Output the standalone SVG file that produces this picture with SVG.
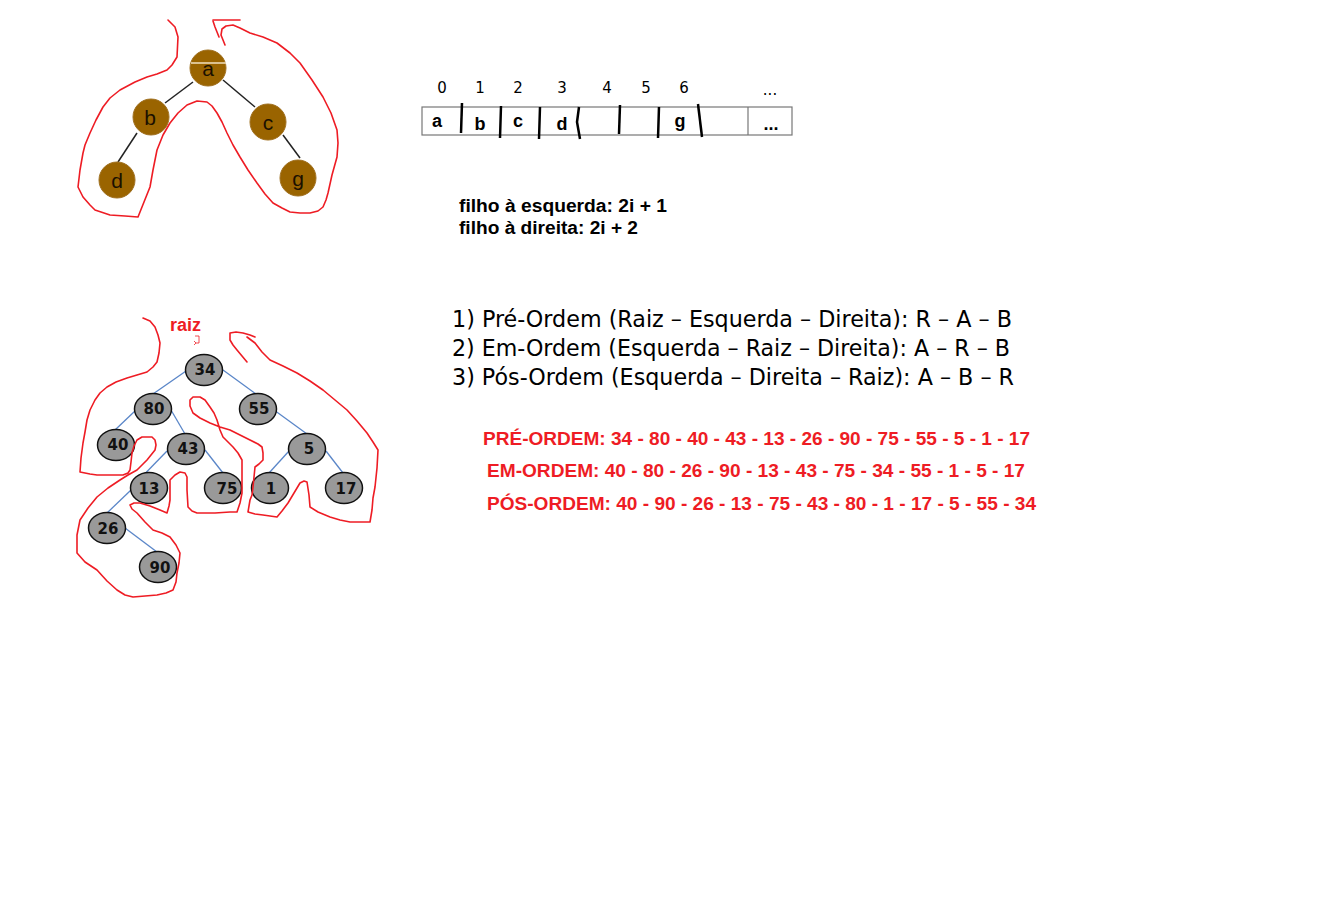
<svg xmlns="http://www.w3.org/2000/svg" width="1341" height="912" viewBox="0 0 1341 912">
<style>
.bn{fill:#9a6400;stroke:#a07020;stroke-width:1}
.bt{font-family:"Liberation Sans",Arial,sans-serif;font-size:21px;fill:#1a1000;text-anchor:middle}
.gn{fill:#999999;stroke:#111;stroke-width:1.5}
.gt{font-family:"DejaVu Sans",Verdana,sans-serif;font-weight:bold;font-size:15px;fill:#111;text-anchor:middle}
.e1{stroke:#222;stroke-width:1.5;fill:none}
.e2{stroke:#5a86c8;stroke-width:1.3;fill:none}
.red{stroke:#ee1c24;stroke-width:1.6;fill:none;stroke-linejoin:round;stroke-linecap:round}
.idx{font-family:"DejaVu Sans",Verdana,sans-serif;font-size:15px;fill:#000;text-anchor:middle}
.cel{font-family:"Liberation Sans",Arial,sans-serif;font-weight:bold;font-size:18px;fill:#000;text-anchor:middle}
.div{stroke:#000;stroke-width:2.5;fill:none}
.bk{font-family:"Liberation Sans",Arial,sans-serif;font-weight:bold;font-size:18px;fill:#000}
.tr{font-family:"DejaVu Sans",Tahoma,sans-serif;font-size:23px;fill:#000}
.rt{font-family:"Liberation Sans",Arial,sans-serif;font-weight:bold;font-size:18px;fill:#ee1c24}
</style>

<!-- top tree -->
<g id="connectors-top">
<line class="e1" x1="193" y1="82" x2="165" y2="103"/>
<line class="e1" x1="223" y1="80" x2="255" y2="107"/>
<line class="e1" x1="137" y1="133" x2="118" y2="162"/>
<line class="e1" x1="283" y1="135" x2="300" y2="158"/>
</g>
<g id="node-a"><circle class="bn" cx="208" cy="68" r="18"/><line x1="191" y1="63" x2="226" y2="63" stroke="#f0e0c0" stroke-width="1.5"/><text class="bt" x="208" y="76">a</text></g>
<g id="node-b"><circle class="bn" cx="151" cy="117" r="18"/><text class="bt" x="150" y="125">b</text></g>
<g id="node-c"><circle class="bn" cx="268" cy="122" r="18"/><text class="bt" x="268" y="130">c</text></g>
<g id="node-d"><circle class="bn" cx="117" cy="180" r="18"/><text class="bt" x="117" y="188">d</text></g>
<g id="node-g"><circle class="bn" cx="298" cy="178" r="18"/><text class="bt" x="298" y="186">g</text></g>

<g id="red-top">
<path class="red" d="M168,20 L175,27 L178,37 L177,57 L172,65 L167,70 L157,74 L147,77 L135,82 L120,90 L110,98 L103,107 L96,120 L90,133 L85,145 L83,153 L80,170 L78,187 L83,197 L90,205 L95,210 L110,215 L125,216 L138,217 L142,207 L146,197 L150,187 L153,170 L157,150 L163,135 L170,123 L178,113 L187,105 L197,101 L207,102 L212,106 L217,113 L222,122 L227,133 L233,145 L240,157 L248,170 L257,183 L265,194 L273,203 L282,208 L290,212 L300,213 L310,213 L318,211 L323,207 L326,200 L328,193 L332,175 L337,157 L338,143 L337,130 L331,113 L323,97 L312,80 L300,63 L290,53 L277,43 L263,37 L250,33 L240,28 L233,25 L226,26 L222,29 L221,35 L223,40 L225,45"/>
<path class="red" d="M213,20 L240,20"/>
<path class="red" d="M213,21 L215,27 L217,32 L219,37"/>
</g>

<!-- array -->
<g id="array">
<rect x="422" y="107" width="370" height="28" fill="#fff" stroke="#777" stroke-width="1.2"/>
<line x1="748" y1="107" x2="748" y2="135" stroke="#777" stroke-width="1.2"/>
<path class="div" d="M462,103 L461,133"/>
<path class="div" d="M501,106 L500,138"/>
<path class="div" d="M540,107 L539,139"/>
<path class="div" d="M579,107 L577,122 L580,139"/>
<path class="div" d="M620,105 L619,134"/>
<path class="div" d="M659,107 L658,138"/>
<path class="div" d="M698,104 L702,137"/>
<text class="idx" x="442" y="93">0</text>
<text class="idx" x="480" y="93">1</text>
<text class="idx" x="518" y="93">2</text>
<text class="idx" x="562" y="93">3</text>
<text class="idx" x="607" y="93">4</text>
<text class="idx" x="646" y="93">5</text>
<text class="idx" x="684" y="93">6</text>
<text class="idx" x="770" y="95">...</text>
<text class="cel" x="437" y="127">a</text>
<text class="cel" x="480" y="130">b</text>
<text class="cel" x="518" y="127">c</text>
<text class="cel" x="562" y="130">d</text>
<text class="cel" x="680" y="127">g</text>
<text class="cel" x="771" y="130">...</text>
</g>

<g id="formulas">
<text class="bk" x="459" y="212" textLength="208" lengthAdjust="spacingAndGlyphs">filho à esquerda: 2i + 1</text>
<text class="bk" x="459" y="234" textLength="179" lengthAdjust="spacingAndGlyphs">filho à direita: 2i + 2</text>
</g>

<!-- bottom tree -->
<g id="connectors-bottom">
<line class="e2" x1="186" y1="371" x2="153" y2="394"/>
<line class="e2" x1="223" y1="370" x2="256" y2="394"/>
<line class="e2" x1="136" y1="410" x2="115" y2="430"/>
<line class="e2" x1="171" y1="410" x2="185" y2="434"/>
<line class="e2" x1="274" y1="410" x2="307" y2="434"/>
<line class="e2" x1="167" y1="451" x2="131" y2="488"/>
<line class="e2" x1="131" y1="490" x2="107" y2="513"/>
<line class="e2" x1="205" y1="450" x2="223" y2="473"/>
<line class="e2" x1="289" y1="451" x2="269" y2="473"/>
<line class="e2" x1="326" y1="451" x2="343" y2="473"/>
<line class="e2" x1="125" y1="528" x2="157" y2="552"/>
</g>
<g id="n34"><ellipse class="gn" cx="204" cy="370" rx="18.5" ry="15.5"/><text class="gt" x="205" y="375">34</text></g>
<g id="n80"><ellipse class="gn" cx="153" cy="409" rx="18.5" ry="15.5"/><text class="gt" x="154" y="414">80</text></g>
<g id="n55"><ellipse class="gn" cx="258" cy="409" rx="18.5" ry="15.5"/><text class="gt" x="259" y="414">55</text></g>
<g id="n40"><ellipse class="gn" cx="116" cy="445" rx="18.5" ry="15.5"/><text class="gt" x="118" y="450">40</text></g>
<g id="n43"><ellipse class="gn" cx="186" cy="449" rx="18.5" ry="15.5"/><text class="gt" x="188" y="454">43</text></g>
<g id="n5"><ellipse class="gn" cx="307" cy="449" rx="18.5" ry="15.5"/><text class="gt" x="309" y="454">5</text></g>
<g id="n13"><ellipse class="gn" cx="149" cy="488" rx="18.5" ry="15.5"/><text class="gt" x="149" y="494">13</text></g>
<g id="n75"><ellipse class="gn" cx="223" cy="488" rx="18.5" ry="15.5"/><text class="gt" x="227" y="494">75</text></g>
<g id="n1"><ellipse class="gn" cx="270" cy="488" rx="18.5" ry="15.5"/><text class="gt" x="271" y="494">1</text></g>
<g id="n17"><ellipse class="gn" cx="344" cy="488" rx="18.5" ry="15.5"/><text class="gt" x="346" y="494">17</text></g>
<g id="n26"><ellipse class="gn" cx="107" cy="528" rx="18.5" ry="15.5"/><text class="gt" x="108" y="534">26</text></g>
<g id="n90"><ellipse class="gn" cx="158" cy="567" rx="18.5" ry="15.5"/><text class="gt" x="160" y="573">90</text></g>

<g id="raiz">
<text x="170" y="331" font-family="Liberation Sans,Arial,sans-serif" font-weight="bold" font-size="18" fill="#ee1c24">raiz</text>
<path d="M195,336 L199,336 L199,343 L196,343 M194,341 L196,343 L194,345" stroke="#ee1c24" stroke-width="0.8" fill="none"/>
</g>

<g id="red-bottom">
<path class="red" d="M143,318 L150,321 L155,327 L158,335 L160,343 L159,353 L157,362 L153,367 L147,372 L137,375 L127,378 L116,382 L107,387 L100,393 L95,400 L90,410 L87,420 L85,432 L83,443 L81,458 L80,472 L90,474 L97,475 L110,475 L123,475 L128,473 L130,470 L131,462 L132,453 L134,446 L137,440 L142,437 L147,437 L152,437 L155,440 L156,445 L155,450 L151,455 L147,460 L142,465 L137,470 L128,475 L120,480 L108,488 L97,497 L88,508 L80,520 L77,535 L77,553 L85,562 L97,570 L107,581 L117,590 L125,595 L133,597 L145,596 L157,595 L166,593 L173,590 L176,582 L177,573 L179,563 L180,553 L176,545 L170,537 L162,533 L153,530 L145,522 L137,513 L132,509 L130,505 L134,503 L140,503 L150,506 L160,510 L167,513 L169,506 L170,500 L170,490 L170,480 L175,475 L180,472 L185,473 L187,477 L187,490 L188,507 L192,511 L197,513 L215,513 L230,512 L237,512 L240,503 L242,493 L242,475 L242,460 L238,453 L233,447 L228,442 L223,437 L220,430 L217,420 L214,413 L210,407 L205,400 L200,397 L193,397 L190,400 L190,406 L193,413 L200,418 L210,423 L220,427 L230,430 L240,435 L250,440 L258,444 L262,447 L263,453 L263,460 L259,464 L255,467 L254,477 L253,487 L252,495 L250,500 L249,506 L248,512 L255,514 L263,515 L270,516 L277,517 L282,511 L288,503 L294,493 L300,483 L304,481 L307,482 L309,495 L310,507 L318,512 L330,517 L340,520 L350,522 L360,522 L370,522 L371,516 L372,510 L373,498 L375,487 L377,468 L378,450 L373,442 L367,433 L357,421 L347,410 L335,400 L323,390 L310,381 L297,373 L283,366 L270,360 L262,352 L255,343 L251,340 L247,337"/>
<path class="red" d="M247,362 L242,356 L237,350 L233,345 L230,340 L230,333 L236,332 L243,333 L250,335 L255,337"/>
</g>

<g id="rules">
<text class="tr" x="452" y="327" textLength="560" lengthAdjust="spacingAndGlyphs">1) Pré-Ordem (Raiz – Esquerda – Direita): R – A – B</text>
<text class="tr" x="452" y="356" textLength="558" lengthAdjust="spacingAndGlyphs">2) Em-Ordem (Esquerda – Raiz – Direita): A – R – B</text>
<text class="tr" x="452" y="385" textLength="562" lengthAdjust="spacingAndGlyphs">3) Pós-Ordem (Esquerda – Direita – Raiz): A – B – R</text>
</g>

<g id="traversals">
<text class="rt" x="483" y="445" textLength="547" lengthAdjust="spacingAndGlyphs">PRÉ-ORDEM: 34 - 80 - 40 - 43 - 13 - 26 - 90 - 75 - 55 - 5 - 1 - 17</text>
<text class="rt" x="487" y="477" textLength="538" lengthAdjust="spacingAndGlyphs">EM-ORDEM: 40 - 80 - 26 - 90 - 13 - 43 - 75 - 34 - 55 - 1 - 5 - 17</text>
<text class="rt" x="487" y="510" textLength="549" lengthAdjust="spacingAndGlyphs">PÓS-ORDEM: 40 - 90 - 26 - 13 - 75 - 43 - 80 - 1 - 17 - 5 - 55 - 34</text>
</g>
</svg>
